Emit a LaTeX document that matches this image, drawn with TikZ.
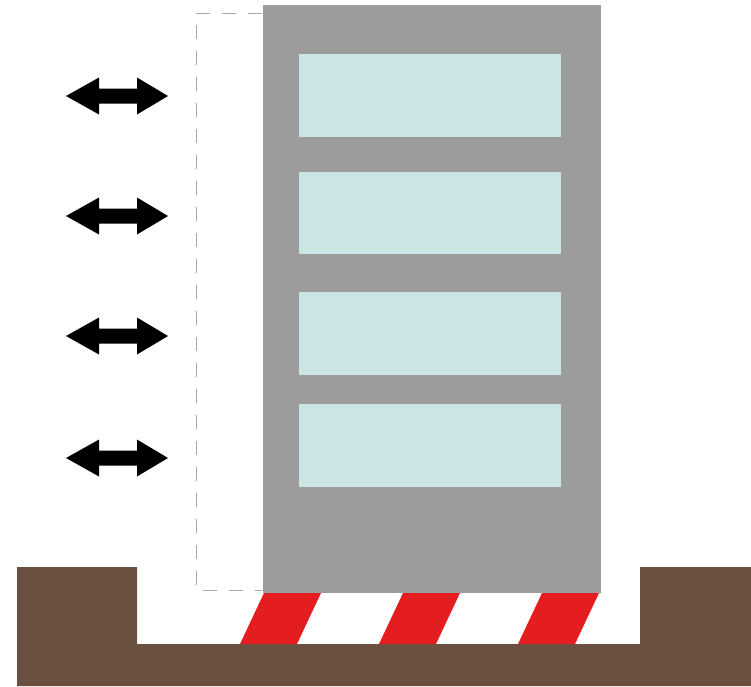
\documentclass[tikz,border=0pt]{standalone}
\begin{document}
\begin{tikzpicture}[x=1pt,y=-1pt,
  wall/.style={fill=bldgray,draw=none},
  pane/.style={fill=glass,draw=none},
  soil/.style={fill=earth,draw=none},
  hazard/.style={fill=warnred,draw=none},
  outline/.style={draw=lightline,line width=0.9pt,dash pattern=on 14pt off 12pt},
  sway/.style={fill=black,draw=none}]
\definecolor{bldgray}{HTML}{9C9C9C}
\definecolor{glass}{HTML}{CBE4E4}
\definecolor{earth}{HTML}{6A5040}
\definecolor{warnred}{HTML}{E41E20}
\definecolor{lightline}{HTML}{A8A8A8}
\useasboundingbox (0,0) rectangle (751,686);
\fill[white] (0,0) rectangle (751,686);

% ground with the foundation pit
\fill[soil] (17,567) -- (137,567) -- (137,644) -- (640,644) -- (640,567)
  -- (751,567) -- (751,686) -- (17,686) -- cycle;

% isolation layer: red and white diagonal stripes
\foreach \b in {240,379,518}{
  \fill[hazard] (\b,644) -- (\b+57,644) -- (\b+81,593) -- (\b+24,593) -- cycle;
}

% displaced position of the building (dashed)
\draw[outline] (262,13) -- (196,13) -- (196,590) -- (262,590);

% building body
\fill[wall] (263,5) rectangle (601,593);

% window bands
\foreach \t/\u in {54/137,172/254,292/375,404/487}{
  \fill[pane] (299,\t) rectangle (561,\u);
}

% horizontal sway arrows
\foreach \c in {96,216,336,458}{
  \fill[sway] (66,\c) -- (99,\c-18.5) -- (99,\c-7.5) -- (137,\c-7.5)
    -- (137,\c-18.5) -- (168,\c) -- (137,\c+18.5) -- (137,\c+7.5)
    -- (99,\c+7.5) -- (99,\c+18.5) -- cycle;
}
\end{tikzpicture}
\end{document}
